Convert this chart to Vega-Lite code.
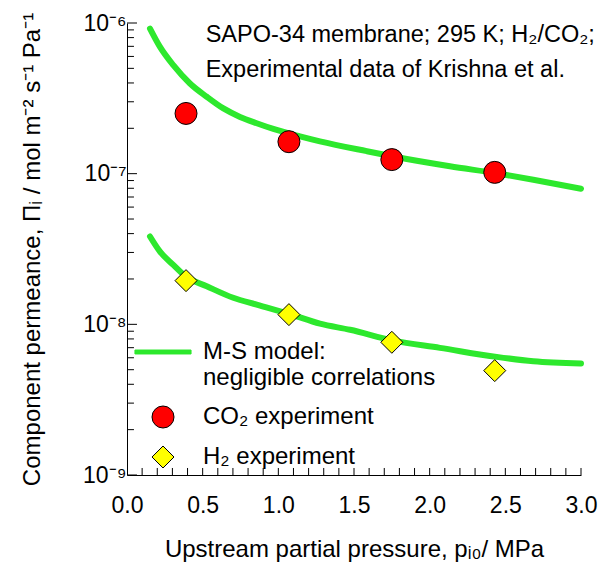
{
  "$schema": "https://vega.github.io/schema/vega-lite/v6.json",
  "width": 454,
  "height": 452,
  "autosize": "none",
  "padding": {"left": 127, "top": 23, "right": 20, "bottom": 93},
  "background": "white",
  "config": {
    "view": {"stroke": null},
    "font": "Liberation Sans",
    "axis": {"grid": false, "domainColor": "black", "tickColor": "black", "labelColor": "black", "titleColor": "black", "labelFont": "Liberation Sans", "titleFont": "Liberation Sans", "titleFontWeight": "normal", "domainWidth": 1, "tickWidth": 1}
  },
  "resolve": {"axis": {"x": "independent", "y": "independent"}},
  "datasets": {
    "model": [
      {"curve": "CO2", "p": 0.152, "perm": 9.18e-7},
      {"curve": "CO2", "p": 0.218, "perm": 6.94e-7},
      {"curve": "CO2", "p": 0.306, "perm": 5.25e-7},
      {"curve": "CO2", "p": 0.416, "perm": 3.97e-7},
      {"curve": "CO2", "p": 0.527, "perm": 3.24e-7},
      {"curve": "CO2", "p": 0.637, "perm": 2.71e-7},
      {"curve": "CO2", "p": 0.747, "perm": 2.38e-7},
      {"curve": "CO2", "p": 0.857, "perm": 2.16e-7},
      {"curve": "CO2", "p": 0.967, "perm": 1.98e-7},
      {"curve": "CO2", "p": 1.143, "perm": 1.77e-7},
      {"curve": "CO2", "p": 1.275, "perm": 1.64e-7},
      {"curve": "CO2", "p": 1.584, "perm": 1.41e-7},
      {"curve": "CO2", "p": 1.76, "perm": 1.30e-7},
      {"curve": "CO2", "p": 2.134, "perm": 1.12e-7},
      {"curve": "CO2", "p": 2.443, "perm": 1.005e-7},
      {"curve": "CO2", "p": 2.685, "perm": 9.12e-8},
      {"curve": "CO2", "p": 3.0, "perm": 7.94e-8},
      {"curve": "H2", "p": 0.152, "perm": 3.83e-8},
      {"curve": "H2", "p": 0.218, "perm": 3.04e-8},
      {"curve": "H2", "p": 0.306, "perm": 2.48e-8},
      {"curve": "H2", "p": 0.388, "perm": 2.08e-8},
      {"curve": "H2", "p": 0.527, "perm": 1.79e-8},
      {"curve": "H2", "p": 0.702, "perm": 1.50e-8},
      {"curve": "H2", "p": 0.857, "perm": 1.35e-8},
      {"curve": "H2", "p": 1.077, "perm": 1.17e-8},
      {"curve": "H2", "p": 1.275, "perm": 1.01e-8},
      {"curve": "H2", "p": 1.474, "perm": 9.2e-9},
      {"curve": "H2", "p": 1.76, "perm": 7.8e-9},
      {"curve": "H2", "p": 2.068, "perm": 6.98e-9},
      {"curve": "H2", "p": 2.443, "perm": 6.08e-9},
      {"curve": "H2", "p": 2.685, "perm": 5.69e-9},
      {"curve": "H2", "p": 3.0, "perm": 5.5e-9}
    ],
    "experiment": [
      {"series": "CO₂ experiment", "p": 0.39, "perm": 2.51e-7},
      {"series": "CO₂ experiment", "p": 1.07, "perm": 1.63e-7},
      {"series": "CO₂ experiment", "p": 1.75, "perm": 1.24e-7},
      {"series": "CO₂ experiment", "p": 2.43, "perm": 1.02e-7},
      {"series": "H₂ experiment", "p": 0.39, "perm": 1.95e-8},
      {"series": "H₂ experiment", "p": 1.07, "perm": 1.16e-8},
      {"series": "H₂ experiment", "p": 1.75, "perm": 7.6e-9},
      {"series": "H₂ experiment", "p": 2.43, "perm": 4.93e-9}
    ],
    "note": [
      {"line1": "SAPO-34 membrane; 295 K; H₂/CO₂;", "line2": "Experimental data of Krishna et al."}
    ],
    "yMajor": [{"v": 1e-9}, {"v": 1e-8}, {"v": 1e-7}, {"v": 1e-6}],
    "yMinor": [
      {"v": 2e-9}, {"v": 3e-9}, {"v": 4e-9}, {"v": 5e-9}, {"v": 6e-9}, {"v": 7e-9}, {"v": 8e-9}, {"v": 9e-9},
      {"v": 2e-8}, {"v": 3e-8}, {"v": 4e-8}, {"v": 5e-8}, {"v": 6e-8}, {"v": 7e-8}, {"v": 8e-8}, {"v": 9e-8},
      {"v": 2e-7}, {"v": 3e-7}, {"v": 4e-7}, {"v": 5e-7}, {"v": 6e-7}, {"v": 7e-7}, {"v": 8e-7}, {"v": 9e-7}
    ],
    "xTicks": [
      {"v": 0.1}, {"v": 0.2}, {"v": 0.3}, {"v": 0.4}, {"v": 0.5}, {"v": 0.6}, {"v": 0.7}, {"v": 0.8}, {"v": 0.9}, {"v": 1.0},
      {"v": 1.1}, {"v": 1.2}, {"v": 1.3}, {"v": 1.4}, {"v": 1.5}, {"v": 1.6}, {"v": 1.7}, {"v": 1.8}, {"v": 1.9}, {"v": 2.0},
      {"v": 2.1}, {"v": 2.2}, {"v": 2.3}, {"v": 2.4}, {"v": 2.5}, {"v": 2.6}, {"v": 2.7}, {"v": 2.8}, {"v": 2.9}, {"v": 3.0}
    ]
  },
  "layer": [
    {
      "data": {"name": "model"},
      "mark": {"type": "line", "color": "#2de82d", "strokeWidth": 6, "strokeCap": "round", "interpolate": "monotone"},
      "encoding": {
        "x": {
          "field": "p", "type": "quantitative",
          "scale": {"domain": [0, 3], "nice": false, "zero": false},
          "axis": {
            "orient": "bottom",
            "title": "Upstream partial pressure, pᵢ₀/ MPa",
            "titleFontSize": 24, "titlePadding": 20,
            "values": [0, 0.5, 1, 1.5, 2, 2.5, 3],
            "format": ".1f",
            "labelFontSize": 23, "labelPadding": 19, "labelOverlap": false, "labelFlush": false,
            "ticks": false, "tickSize": 0
          }
        },
        "y": {
          "field": "perm", "type": "quantitative",
          "scale": {"type": "log", "domain": [1e-9, 1e-6], "nice": false},
          "axis": {
            "orient": "left",
            "title": "Component permeance, Πᵢ / mol m⁻² s⁻¹ Pa⁻¹",
            "titleFontSize": 24, "titlePadding": 38,
            "values": [1e-9, 1e-8, 1e-7, 1e-6],
            "labelExpr": "datum.value == 1e-6 ? '10⁻⁶' : datum.value == 1e-7 ? '10⁻⁷' : datum.value == 1e-8 ? '10⁻⁸' : '10⁻⁹'",
            "labelFontSize": 23, "labelPadding": 1, "labelOverlap": false, "labelFlush": false,
            "ticks": false, "tickSize": 0
          }
        },
        "detail": {"field": "curve"}
      }
    },
    {
      "data": {"name": "yMajor"},
      "mark": {"type": "rule", "color": "black", "strokeWidth": 1},
      "encoding": {
        "y": {"field": "v", "type": "quantitative", "axis": null},
        "x": {"datum": 0, "type": "quantitative", "axis": null},
        "x2": {"datum": 0.066}
      }
    },
    {
      "data": {"name": "yMinor"},
      "mark": {"type": "rule", "color": "black", "strokeWidth": 1},
      "encoding": {
        "y": {"field": "v", "type": "quantitative", "axis": null},
        "x": {"datum": 0, "type": "quantitative", "axis": null},
        "x2": {"datum": 0.046}
      }
    },
    {
      "data": {"name": "xTicks"},
      "mark": {"type": "rule", "color": "black", "strokeWidth": 1},
      "encoding": {
        "x": {"field": "v", "type": "quantitative", "axis": null},
        "y": {"datum": 1e-9, "type": "quantitative", "axis": null},
        "y2": {"datum": 1.113e-9}
      }
    },
    {
      "data": {"name": "experiment"},
      "mark": {"type": "point", "filled": true, "strokeWidth": 1, "opacity": 1},
      "encoding": {
        "x": {"field": "p", "type": "quantitative", "axis": null},
        "y": {"field": "perm", "type": "quantitative", "axis": null},
        "shape": {
          "field": "series", "type": "nominal",
          "scale": {"domain": ["model", "CO₂ experiment", "H₂ experiment"], "range": ["M-2.55,-0.18H2.55V0.18H-2.55Z", "circle", "diamond"]},
          "legend": {
            "title": null, "orient": "none", "legendX": 24, "legendY": 317, "padding": 0,
            "labelFontSize": 24, "labelFont": "Liberation Sans", "labelColor": "black", "labelLimit": 0,
            "labelOffset": 28, "rowPadding": 14, "symbolStrokeWidth": 1, "symbolOpacity": 1,
            "labelExpr": "datum.value == 'model' ? ['M-S model:', 'negligible correlations'] : datum.label"
          }
        },
        "color": {
          "field": "series", "type": "nominal",
          "scale": {"domain": ["model", "CO₂ experiment", "H₂ experiment"], "range": ["#2de82d", "#ff0000", "#ffff00"]}
        },
        "stroke": {
          "field": "series", "type": "nominal",
          "scale": {"domain": ["model", "CO₂ experiment", "H₂ experiment"], "range": ["#2de82d", "#000000", "#000000"]}
        },
        "size": {
          "field": "series", "type": "nominal",
          "scale": {"domain": ["model", "CO₂ experiment", "H₂ experiment"], "range": [484, 484, 676]}
        }
      }
    },
    {
      "data": {"name": "note"},
      "mark": {"type": "text", "align": "left", "baseline": "alphabetic", "fontSize": 23.5, "font": "Liberation Sans", "color": "black"},
      "encoding": {
        "x": {"datum": 0.52, "type": "quantitative", "axis": null},
        "y": {"datum": 7.48e-7, "type": "quantitative", "axis": null},
        "text": {"field": "line1"}
      }
    },
    {
      "data": {"name": "note"},
      "mark": {"type": "text", "align": "left", "baseline": "alphabetic", "fontSize": 23.5, "font": "Liberation Sans", "color": "black"},
      "encoding": {
        "x": {"datum": 0.52, "type": "quantitative", "axis": null},
        "y": {"datum": 4.4e-7, "type": "quantitative", "axis": null},
        "text": {"field": "line2"}
      }
    }
  ]
}
